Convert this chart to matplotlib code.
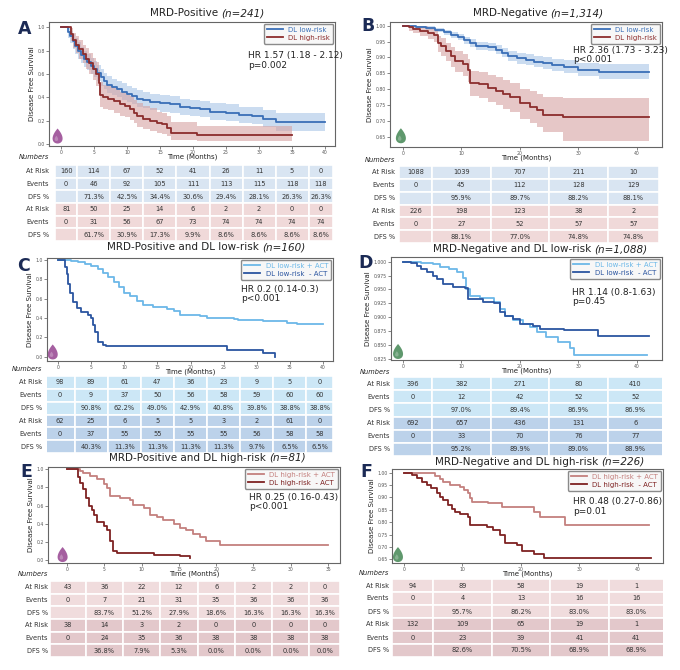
import numpy as np
import matplotlib
matplotlib.use("Agg")
import matplotlib.pyplot as plt
from matplotlib.patches import Rectangle, Polygon
from matplotlib.ticker import FormatStrFormatter
from matplotlib.transforms import ScaledTranslation

# ---------------- data ----------------
# A: MRD-positive, DL low-risk vs high-risk
a_low_t = [0, 1.1, 1.4, 1.8, 2.2, 2.6, 3.0, 3.5, 4.0, 4.5, 5.0, 5.5, 6.0, 6.5, 7.0, 7.8, 8.5, 9.3, 10.0,
           10.8, 11.5, 12.5, 13.5, 15.0, 16.5, 18.0, 19.5, 21, 22.5, 25, 27, 29, 30.6, 32.6, 40]
a_low_s = [1.0, 0.96, 0.92, 0.88, 0.84, 0.80, 0.76, 0.73, 0.70, 0.67, 0.64, 0.61, 0.57, 0.54, 0.51, 0.49,
           0.47, 0.45, 0.43, 0.41, 0.39, 0.38, 0.36, 0.35, 0.34, 0.32, 0.31, 0.30, 0.28, 0.265, 0.25, 0.245,
           0.22, 0.19, 0.19]
a_low_hi = [1.0, 1.0, 0.97, 0.94, 0.91, 0.87, 0.83, 0.80, 0.77, 0.74, 0.71, 0.68, 0.64, 0.61, 0.58, 0.56,
            0.54, 0.52, 0.50, 0.48, 0.46, 0.45, 0.43, 0.42, 0.41, 0.39, 0.38, 0.37, 0.35, 0.34, 0.32, 0.32,
            0.29, 0.27, 0.27]
a_low_lo = [1.0, 0.91, 0.86, 0.81, 0.77, 0.73, 0.69, 0.66, 0.63, 0.60, 0.57, 0.54, 0.50, 0.47, 0.44, 0.42,
            0.40, 0.38, 0.36, 0.34, 0.32, 0.31, 0.29, 0.28, 0.27, 0.25, 0.24, 0.23, 0.21, 0.195, 0.18, 0.17,
            0.15, 0.11, 0.11]
a_high_t = [0, 1.5, 1.9, 2.3, 2.8, 3.3, 3.8, 4.3, 4.8, 5.3, 5.7, 5.9, 6.4, 7.2, 8.0, 8.9, 9.7, 10.5, 11.0,
            11.5, 12.5, 13.5, 14.5, 15.3, 16.0, 16.6, 20.6, 35]
a_high_s = [1.0, 0.94, 0.89, 0.85, 0.81, 0.77, 0.73, 0.69, 0.64, 0.60, 0.52, 0.42, 0.40, 0.39, 0.37, 0.34,
            0.33, 0.30, 0.27, 0.24, 0.22, 0.20, 0.18, 0.17, 0.14, 0.10, 0.08, 0.08]
a_high_hi = [1.0, 0.99, 0.95, 0.92, 0.89, 0.85, 0.82, 0.78, 0.74, 0.70, 0.63, 0.53, 0.51, 0.50, 0.48, 0.45,
             0.44, 0.41, 0.38, 0.35, 0.33, 0.31, 0.28, 0.27, 0.24, 0.19, 0.16, 0.16]
a_high_lo = [1.0, 0.88, 0.82, 0.78, 0.73, 0.69, 0.64, 0.60, 0.55, 0.50, 0.42, 0.32, 0.30, 0.29, 0.27, 0.24,
             0.23, 0.21, 0.18, 0.15, 0.13, 0.11, 0.10, 0.09, 0.07, 0.04, 0.03, 0.03]

# B: MRD-negative, DL low-risk vs high-risk
b_low_t = [0, 2.3, 4.0, 5.5, 7.0, 8.3, 9.5, 10.5, 11.5, 12.5, 14.5, 16.0, 17.0, 18.0, 19.5, 21.0, 22.5,
           24.0, 25.5, 27.5, 30.0, 33.5, 42]
b_low_s = [1.0, 0.997, 0.992, 0.987, 0.980, 0.972, 0.965, 0.955, 0.945, 0.937, 0.932, 0.925, 0.915, 0.905,
           0.898, 0.893, 0.887, 0.882, 0.876, 0.871, 0.862, 0.855, 0.853]
b_low_hi = [1.0, 1.0, 0.998, 0.994, 0.988, 0.981, 0.975, 0.966, 0.957, 0.949, 0.945, 0.939, 0.930, 0.921,
            0.915, 0.910, 0.905, 0.900, 0.895, 0.891, 0.884, 0.878, 0.876]
b_low_lo = [1.0, 0.993, 0.986, 0.980, 0.972, 0.963, 0.955, 0.944, 0.933, 0.925, 0.919, 0.911, 0.900, 0.889,
            0.881, 0.876, 0.869, 0.864, 0.857, 0.851, 0.842, 0.832, 0.827]
b_high_t = [0, 1.1, 1.7, 2.9, 4.3, 5.4, 6.0, 6.6, 7.4, 8.3, 8.9, 10.3, 11.1, 11.4, 13.1, 14.6, 16.0, 17.1,
            18.3, 20.0, 21.7, 22.9, 24.0, 27.4, 42]
b_high_s = [1.0, 0.995, 0.99, 0.985, 0.978, 0.97, 0.945, 0.935, 0.92, 0.905, 0.89, 0.88, 0.862, 0.82, 0.815,
            0.805, 0.795, 0.785, 0.775, 0.755, 0.745, 0.735, 0.72, 0.711, 0.711]
b_high_hi = [1.0, 1.0, 1.0, 0.998, 0.993, 0.988, 0.968, 0.96, 0.947, 0.934, 0.921, 0.912, 0.896, 0.858,
             0.854, 0.845, 0.837, 0.828, 0.82, 0.802, 0.793, 0.784, 0.776, 0.772, 0.772]
b_high_lo = [1.0, 0.985, 0.978, 0.968, 0.958, 0.948, 0.917, 0.905, 0.888, 0.871, 0.854, 0.843, 0.823, 0.778,
             0.772, 0.761, 0.749, 0.738, 0.727, 0.705, 0.693, 0.682, 0.665, 0.638, 0.638]

# C: MRD-positive & DL low-risk, +ACT vs -ACT
c_plus_t = [0, 2.0, 3.0, 4.0, 5.0, 6.0, 6.8, 7.6, 8.4, 9.2, 10.0, 10.9, 11.9, 12.9, 14.4, 16.4, 17.5, 18.4,
            21.5, 22.5, 26.5, 27.2, 31, 34.6, 36, 40]
c_plus_s = [1.0, 0.99, 0.975, 0.96, 0.935, 0.91, 0.87, 0.82, 0.77, 0.72, 0.66, 0.63, 0.58, 0.535, 0.515,
            0.495, 0.47, 0.43, 0.42, 0.40, 0.39, 0.375, 0.365, 0.345, 0.335, 0.335]
c_minus_t = [0, 1.0, 1.3, 1.5, 1.8, 2.3, 2.8, 3.5, 4.5, 5.0, 5.3, 5.6, 6.1, 6.8, 7.3, 25.5, 31, 32.8]
c_minus_s = [1.0, 0.93, 0.85, 0.75, 0.66, 0.57, 0.50, 0.46, 0.43, 0.40, 0.33, 0.25, 0.15, 0.12, 0.105, 0.07,
             0.035, 0.0]

# D: MRD-negative & DL low-risk, +ACT vs -ACT
d_plus_t = [0, 3.0, 5.2, 6.3, 7.9, 9.2, 10.3, 10.8, 11.5, 13.2, 15.5, 16.6, 17.5, 18.9, 20.5, 21.8, 22.9,
            24.5, 26.5, 28.6, 29.2, 41.7]
d_plus_s = [1.0, 0.998, 0.995, 0.991, 0.987, 0.981, 0.97, 0.95, 0.938, 0.935, 0.928, 0.915, 0.902, 0.895,
            0.887, 0.882, 0.874, 0.865, 0.855, 0.845, 0.832, 0.832]
d_minus_t = [0, 1.3, 2.4, 3.0, 4.1, 5.2, 5.8, 6.9, 8.6, 10.6, 11.2, 13.7, 15.5, 16.6, 17.5, 18.9, 20.0,
             22.3, 23.5, 27.5, 33.4, 42]
d_minus_s = [1.0, 0.997, 0.993, 0.987, 0.982, 0.975, 0.968, 0.96, 0.955, 0.952, 0.932, 0.928, 0.925, 0.91,
             0.902, 0.897, 0.888, 0.885, 0.879, 0.877, 0.866, 0.866]

# E: MRD-positive & DL high-risk, +ACT vs -ACT
e_plus_t = [0, 1.8, 2.2, 3.1, 4.0, 4.9, 5.3, 5.8, 7.1, 8.5, 8.9, 10.3, 11.1, 12.0, 12.9, 14.3, 15.2, 16.0,
            16.9, 17.8, 18.7, 20.5, 35]
e_plus_s = [1.0, 0.98, 0.96, 0.93, 0.89, 0.84, 0.79, 0.70, 0.68, 0.66, 0.61, 0.57, 0.50, 0.47, 0.44, 0.40,
            0.35, 0.33, 0.29, 0.25, 0.21, 0.17, 0.17]
e_minus_t = [0, 1.5, 1.8, 2.2, 2.6, 2.9, 3.3, 3.6, 4.0, 4.9, 5.3, 5.8, 6.2, 6.7, 11.6, 15.2, 16.5]
e_minus_s = [1.0, 0.92, 0.85, 0.78, 0.68, 0.60, 0.55, 0.50, 0.42, 0.38, 0.33, 0.21, 0.10, 0.08, 0.06, 0.04,
             0.02]

# F: MRD-negative & DL high-risk, +ACT vs -ACT
f_plus_t = [0, 5.3, 6.2, 6.7, 7.9, 9.6, 10.3, 10.9, 11.3, 11.6, 14.4, 16.7, 22.2, 23.3, 27.6, 41.9]
f_plus_s = [1.0, 0.987, 0.973, 0.964, 0.95, 0.944, 0.93, 0.917, 0.897, 0.883, 0.876, 0.862, 0.843, 0.822,
            0.789, 0.789]
f_minus_t = [0, 1.3, 2.2, 3.0, 3.9, 4.7, 5.6, 6.2, 6.7, 7.6, 8.2, 8.7, 9.6, 11.0, 11.3, 14.2, 15.3, 16.5,
             17.3, 19.3, 20.2, 22.2, 23.9, 42.2]
f_minus_s = [1.0, 0.99, 0.977, 0.964, 0.95, 0.937, 0.917, 0.903, 0.89, 0.87, 0.855, 0.843, 0.835, 0.822,
             0.789, 0.782, 0.769, 0.749, 0.715, 0.708, 0.684, 0.671, 0.654, 0.654]

# numbers-at-risk tables
a_times = [0, 5, 10, 15, 20, 25, 30, 35, 40]
a_low_risk = [160, 114, 67, 52, 41, 26, 11, 5, 0]
a_low_events = [0, 46, 92, 105, 111, 113, 115, 118, 118]
a_low_dfs = [None, 71.3, 42.5, 34.4, 30.6, 29.4, 28.1, 26.3, 26.3]
a_high_risk = [81, 50, 25, 14, 6, 2, 2, 0, 0]
a_high_events = [0, 31, 56, 67, 73, 74, 74, 74, 74]
a_high_dfs = [None, 61.7, 30.9, 17.3, 9.9, 8.6, 8.6, 8.6, 8.6]

b_times = [0, 10, 20, 30, 40]
b_low_risk = [1088, 1039, 707, 211, 10]
b_low_events = [0, 45, 112, 128, 129]
b_low_dfs = [None, 95.9, 89.7, 88.2, 88.1]
b_high_risk = [226, 198, 123, 38, 2]
b_high_events = [0, 27, 52, 57, 57]
b_high_dfs = [None, 88.1, 77.0, 74.8, 74.8]

c_times = [0, 5, 10, 15, 20, 25, 30, 35, 40]
c_plus_risk = [98, 89, 61, 47, 36, 23, 9, 5, 0]
c_plus_events = [0, 9, 37, 50, 56, 58, 59, 60, 60]
c_plus_dfs = [None, 90.8, 62.2, 49.0, 42.9, 40.8, 39.8, 38.8, 38.8]
c_minus_risk = [62, 25, 6, 5, 5, 3, 2, 61, 0]
c_minus_events = [0, 37, 55, 55, 55, 55, 56, 58, 58]
c_minus_dfs = [None, 40.3, 11.3, 11.3, 11.3, 11.3, 9.7, 6.5, 6.5]

d_times = [0, 10, 20, 30, 40]
d_plus_risk = [396, 382, 271, 80, 410]
d_plus_events = [0, 12, 42, 52, 52]
d_plus_dfs = [None, 97.0, 89.4, 86.9, 86.9]
d_minus_risk = [692, 657, 436, 131, 6]
d_minus_events = [0, 33, 70, 76, 77]
d_minus_dfs = [None, 95.2, 89.9, 89.0, 88.9]

e_times = [0, 5, 10, 15, 20, 25, 30, 35]
e_plus_risk = [43, 36, 22, 12, 6, 2, 2, 0]
e_plus_events = [0, 7, 21, 31, 35, 36, 36, 36]
e_plus_dfs = [None, 83.7, 51.2, 27.9, 18.6, 16.3, 16.3, 16.3]
e_minus_risk = [38, 14, 3, 2, 0, 0, 0, 0]
e_minus_events = [0, 24, 35, 36, 38, 38, 38, 38]
e_minus_dfs = [None, 36.8, 7.9, 5.3, 0.0, 0.0, 0.0, 0.0]

f_times = [0, 10, 20, 30, 40]
f_plus_risk = [94, 89, 58, 19, 1]
f_plus_events = [0, 4, 13, 16, 16]
f_plus_dfs = [None, 95.7, 86.2, 83.0, 83.0]
f_minus_risk = [132, 109, 65, 19, 1]
f_minus_events = [0, 23, 39, 41, 41]
f_minus_dfs = [None, 82.6, 70.5, 68.9, 68.9]

# ---------------- colours ----------------
LOW, LOW_BAND = "#3a6fb7", "#a9c6e6"
HIGH, HIGH_BAND = "#8c2d2d", "#d6a3a3"
LPLUS, LMINUS = "#6cb8e8", "#2b55a0"
HPLUS, HMINUS = "#c4807e", "#7e2222"
PURPLE, GREEN = "#9b4d96", "#4e8d5d"

W, H = 680, 670
fig = plt.figure(figsize=(6.8, 6.7), dpi=100)
fig.patch.set_facecolor("white")


def fx(x):
    return x / W


def fy(y):
    return 1 - y / H


def box(l, t, r, b):
    return [l / W, 1 - b / H, (r - l) / W, (b - t) / H]


def two_part_title(x, y, main, ital, size=7.5):
    t1 = fig.text(fx(x), fy(y), main, fontsize=size, ha="left", va="center", color="#222")
    t2 = fig.text(fx(x), fy(y), ital, fontsize=size, ha="left", va="center", color="#222",
                  style="italic")
    r = fig.canvas.get_renderer()
    w1 = t1.get_window_extent(r).width
    w2 = t2.get_window_extent(r).width
    gap = size * 0.32 * fig.dpi / 72
    left = x - (w1 + gap + w2) / 2
    t1.set_x(fx(left))
    t2.set_x(fx(left + w1 + gap))


tt = np.linspace(0, 2 * np.pi, 90)
drop_x = np.sin(tt) * np.sin(tt / 2)
drop_y = np.cos(tt)


def droplet(ax, xa, ya, color):
    w, h = 0.10, 0.15
    xs = drop_x / np.abs(drop_x).max() * w / 2
    ys = (drop_y + 1) / 2 * h
    trans = fig.dpi_scale_trans + ScaledTranslation(xa, ya, ax.transAxes)
    ax.add_artist(Polygon(np.column_stack([xs, ys]), closed=True, transform=trans,
                          facecolor=color, edgecolor="none", alpha=0.9, clip_on=False))
    ax.add_artist(Polygon(np.column_stack([xs * 0.35 - 0.012, ys * 0.35 + 0.025]), closed=True,
                          transform=trans, facecolor="white", edgecolor="none", alpha=0.25,
                          clip_on=False))


panels = [
    dict(letter="A", title=("MRD-Positive", "(n=241)"), ax=(49, 22, 335, 146), xlim=(-1.8, 41.5),
         ylim=(-0.014, 1.043), yt=[0, 0.2, 0.4, 0.6, 0.8, 1.0], yfmt="%.1f", tab=(55, 165, 333, 241),
         lab_x=49, num_y=157, tpos=(207, 13), lpos=(25, 29), hr=(0.696, 0.69), drop=(0.03, 0.02),
         dcol=PURPLE,
         curves=[(a_low_t, a_low_s, a_low_lo, a_low_hi, LOW, LOW_BAND, "DL low-risk"),
                 (a_high_t, a_high_s, a_high_lo, a_high_hi, HIGH, HIGH_BAND, "DL high-risk")],
         hrtext="HR 1.57 (1.18 - 2.12)\np=0.002", times=a_times,
         rows=[(a_low_risk, a_low_events, a_low_dfs), (a_high_risk, a_high_events, a_high_dfs)],
         tcol=("#d9e5f2", "#f0d9d9")),
    dict(letter="B", title=("MRD-Negative", "(n=1,314)"), ax=(390, 22, 662, 147), xlim=(-2.2, 44.3),
         ylim=(0.6175, 1.012), yt=[0.65, 0.70, 0.75, 0.80, 0.85, 0.90, 0.95, 1.00], yfmt="%.2f",
         tab=(399, 166, 659, 243), lab_x=395, num_y=160, tpos=(538, 13), lpos=(368, 26),
         hr=(0.673, 0.736), drop=(0.04, 0.03), dcol=GREEN,
         curves=[(b_low_t, b_low_s, b_low_lo, b_low_hi, LOW, LOW_BAND, "DL low-risk"),
                 (b_high_t, b_high_s, b_high_lo, b_high_hi, HIGH, HIGH_BAND, "DL high-risk")],
         hrtext="HR 2.36 (1.73 - 3.23)\np<0.001", times=b_times,
         rows=[(b_low_risk, b_low_events, b_low_dfs), (b_high_risk, b_high_events, b_high_dfs)],
         tcol=("#d9e5f2", "#f0d9d9")),
    dict(letter="C", title=("MRD-Positive and DL low-risk", "(n=160)"), ax=(47, 258, 333, 361),
         xlim=(-1.66, 41.5), ylim=(-0.045, 1.02), yt=[0, 0.2, 0.4, 0.6, 0.8, 1.0], yfmt="%.1f",
         tab=(45, 376, 333, 453), lab_x=42, num_y=369, tpos=(206, 247), lpos=(24, 266),
         hr=(0.68, 0.65), drop=(0.02, 0.015), dcol=PURPLE,
         curves=[(c_plus_t, c_plus_s, None, None, LPLUS, None, "DL low-risk + ACT"),
                 (c_minus_t, c_minus_s, None, None, LMINUS, None, "DL low-risk  - ACT")],
         hrtext="HR 0.2 (0.14-0.3)\np<0.001", times=c_times,
         rows=[(c_plus_risk, c_plus_events, c_plus_dfs), (c_minus_risk, c_minus_events, c_minus_dfs)],
         tcol=("#cce7f6", "#bcd2ea")),
    dict(letter="D", title=("MRD-Negative and DL low-risk", "(n=1,088)"), ax=(391, 257, 662, 360),
         xlim=(-2.05, 44.3), ylim=(0.823, 1.0085),
         yt=[0.825, 0.85, 0.875, 0.9, 0.925, 0.95, 0.975, 1.0], yfmt="%.3f",
         tab=(393, 377, 663, 456), lab_x=390, num_y=372, tpos=(540, 249), lpos=(366, 263),
         hr=(0.668, 0.61), drop=(0.026, 0.01), dcol=GREEN,
         curves=[(d_plus_t, d_plus_s, None, None, LPLUS, None, "DL low-risk + ACT"),
                 (d_minus_t, d_minus_s, None, None, LMINUS, None, "DL low-risk  - ACT")],
         hrtext="HR 1.14 (0.8-1.63)\np=0.45", times=d_times,
         rows=[(d_plus_risk, d_plus_events, d_plus_dfs), (d_minus_risk, d_minus_events, d_minus_dfs)],
         tcol=("#cce7f6", "#bcd2ea")),
    dict(letter="E", title=("MRD-Positive and DL high-risk", "(n=81)"), ax=(48, 467, 340, 563),
         xlim=(-2.55, 36.6), ylim=(-0.033, 1.025), yt=[0, 0.2, 0.4, 0.6, 0.8, 1.0], yfmt="%.1f",
         tab=(50, 581, 340, 657), lab_x=48, num_y=574, tpos=(207, 458), lpos=(26, 472),
         hr=(0.69, 0.635), drop=(0.05, 0.01), dcol=PURPLE,
         curves=[(e_plus_t, e_plus_s, None, None, HPLUS, None, "DL high-risk + ACT"),
                 (e_minus_t, e_minus_s, None, None, HMINUS, None, "DL high-risk  - ACT")],
         hrtext="HR 0.25 (0.16-0.43)\np<0.001", times=e_times,
         rows=[(e_plus_risk, e_plus_events, e_plus_dfs), (e_minus_risk, e_minus_events, e_minus_dfs)],
         tcol=("#f0dcdd", "#e3c8cb")),
    dict(letter="F", title=("MRD-Negative and DL high-risk", "(n=226)"), ax=(392, 469, 663, 563),
         xlim=(-2.05, 44.3), ylim=(0.635, 1.015), yt=[0.65, 0.70, 0.75, 0.80, 0.85, 0.90, 0.95, 1.00],
         yfmt="%.2f", tab=(392, 579, 664, 657), lab_x=389, num_y=573, tpos=(540, 462),
         lpos=(366, 472), hr=(0.668, 0.60), drop=(0.022, 0.01), dcol=GREEN,
         curves=[(f_plus_t, f_plus_s, None, None, HPLUS, None, "DL high-risk + ACT"),
                 (f_minus_t, f_minus_s, None, None, HMINUS, None, "DL high-risk  - ACT")],
         hrtext="HR 0.48 (0.27-0.86)\np=0.01", times=f_times,
         rows=[(f_plus_risk, f_plus_events, f_plus_dfs), (f_minus_risk, f_minus_events, f_minus_dfs)],
         tcol=("#f0dcdd", "#e3c8cb")),
]

for p in panels:
    l, t, r, b = p["ax"]
    ax = fig.add_axes(box(l, t, r, b))
    for (ct, cs, clo, chi, col, bcol, lab) in p["curves"]:
        if clo is not None:
            ax.fill_between(ct, clo, chi, step="post", color=bcol, alpha=0.6, lw=0)
        ax.plot(ct, cs, drawstyle="steps-post", color=col, lw=1.3, label=lab)
    ax.set_xlim(p["xlim"])
    ax.set_ylim(p["ylim"])
    ax.set_xticks(p["times"])
    ax.set_yticks(p["yt"])
    ax.yaxis.set_major_formatter(FormatStrFormatter(p["yfmt"]))
    ax.tick_params(labelsize=3.3, length=2, width=0.5, pad=1, colors="#555")
    for s in ax.spines.values():
        s.set_color("#666")
        s.set_linewidth(0.8)
    ax.set_ylabel("Disease Free Survival", fontsize=5, labelpad=2, color="#222")
    leg = ax.legend(loc="upper right", fontsize=5, frameon=True, fancybox=True, edgecolor="#8a8a8a",
                    facecolor="#f7f7f7", framealpha=1, borderaxespad=0.25, handlelength=2.3,
                    labelspacing=0.25, borderpad=0.45, labelcolor="linecolor")
    leg.get_frame().set_linewidth(1.0)
    ax.text(p["hr"][0], p["hr"][1], p["hrtext"], transform=ax.transAxes, fontsize=6.5,
            va="center", ha="left", linespacing=1.05, color="#222")
    droplet(ax, p["drop"][0], p["drop"][1], p["dcol"])

    two_part_title(p["tpos"][0], p["tpos"][1], p["title"][0], p["title"][1])
    fig.text(fx(p["lpos"][0]), fy(p["lpos"][1]), p["letter"], fontsize=12.5, fontweight="heavy",
             color="#1b2a55", ha="center", va="center")
    fig.text(fx((l + r) / 2), fy(b + 11), "Time (Months)", fontsize=5, ha="center", va="center",
             color="#222")
    fig.text(fx(p["lab_x"]), fy(p["num_y"]), "Numbers", fontsize=4.8, style="italic", ha="right",
             va="center", color="#222")

    # numbers table aligned on the time axis
    tl, tt_, tr, tb = p["tab"]
    tab = fig.add_axes(box(l, tt_, r, tb))
    tab.set_xlim(p["xlim"])
    tab.set_ylim(6, 0)
    tab.axis("off")
    x0d = p["xlim"][0] + (tl - l) / (r - l) * (p["xlim"][1] - p["xlim"][0])
    x1d = p["xlim"][0] + (tr - l) / (r - l) * (p["xlim"][1] - p["xlim"][0])
    times = p["times"]
    edges = [x0d] + [(times[i] + times[i + 1]) / 2 for i in range(len(times) - 1)] + [x1d]
    rowh = (tb - tt_) / 6
    k = 0
    for g, (risk, events, dfs) in enumerate(p["rows"]):
        for name, vals in (("At Risk", risk), ("Events", events), ("DFS %", dfs)):
            fig.text(fx(p["lab_x"]), fy(tt_ + (k + 0.5) * rowh), name, fontsize=4.8, ha="right",
                     va="center", color="#333")
            for j, v in enumerate(vals):
                tab.add_patch(Rectangle((edges[j], k), edges[j + 1] - edges[j], 1,
                                        facecolor=p["tcol"][g], edgecolor="white", lw=1.2))
                if v is None:
                    s = ""
                elif name == "DFS %":
                    s = f"{v:.1f}%"
                else:
                    s = str(v)
                tab.text((edges[j] + edges[j + 1]) / 2, k + 0.5, s, fontsize=4.8, ha="center",
                         va="center", color="#333")
            k += 1

fig.savefig("out.png", dpi=100, facecolor="white")
